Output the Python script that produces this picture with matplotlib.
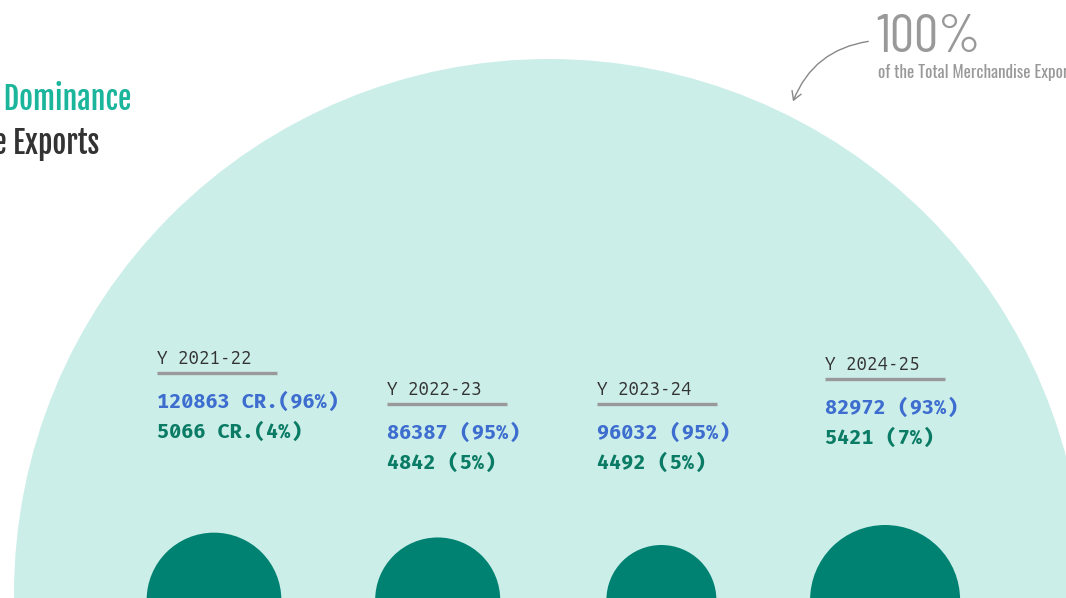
import matplotlib
matplotlib.use("Agg")
import matplotlib.pyplot as plt
from matplotlib.patches import Circle, FancyArrowPatch

# data
years = ["2021-22", "2022-23", "2023-24", "2024-25"]
main_values = [120863, 86387, 96032, 82972]
main_share = [96, 95, 95, 93]
other_values = [5066, 4842, 4492, 5421]
other_share = [4, 5, 5, 7]
units = ["CR.", "", "", ""]

title_line1 = "Export Dominance"
title_line2 = "in Merchandise Exports"
total_label = "100%"
total_note = "of the Total Merchandise Exports"

# colours
bg_teal = "#cceee9"
dark_teal = "#008272"
blue = "#3d6dcf"
green = "#0a7b64"
grey = "#999999"

mono = ["Fira Code", "DejaVu Sans Mono"]
light_mono = ["Ubuntu Mono", "DejaVu Sans Mono"]

fig = plt.figure(figsize=(10.66, 5.98), dpi=100)
ax = fig.add_axes([0, 0, 1, 1])
ax.set_xlim(0, 1066)
ax.set_ylim(598, 0)
ax.set_aspect("equal")
ax.axis("off")

# big 100% circle
ax.add_patch(Circle((549, 594), 535, color=bg_teal, lw=0, zorder=1))

# radius scale for the small circles
vmin, vmax = min(other_values), max(other_values)
def radius(v):
    return 55 + (v - vmin) / (vmax - vmin) * 20

# column layout (pixels)
circle_x = [214 + i * 223.7 for i in range(len(years))]
text_x = [157, 387, 597, 825]
label_top = [350, 381, 381, 356]

for i, year in enumerate(years):
    ax.add_patch(Circle((circle_x[i], 600), radius(other_values[i]), color=dark_teal, lw=0, zorder=2))

    tx = text_x[i]
    ty = label_top[i]
    ax.text(tx, ty + 14, "Y " + year, fontsize=13.5, family=light_mono,
            color="#333333", va="baseline", ha="left", zorder=3)
    ax.plot([tx, tx + 120], [ty + 22.5, ty + 22.5], color=grey, lw=2.4, solid_capstyle="butt", zorder=3)

    if units[i]:
        top_txt = f"{main_values[i]} {units[i]}({main_share[i]}%)"
        bot_txt = f"{other_values[i]} {units[i]}({other_share[i]}%)"
    else:
        top_txt = f"{main_values[i]} ({main_share[i]}%)"
        bot_txt = f"{other_values[i]} ({other_share[i]}%)"
    ax.text(tx, ty + 58, top_txt, fontsize=14.2, weight="bold", family=mono,
            color=blue, va="baseline", ha="left", zorder=3)
    ax.text(tx, ty + 88, bot_txt, fontsize=14.2, weight="bold", family=mono,
            color=green, va="baseline", ha="left", zorder=3)

# title (cut off at the left edge)
ax.text(131, 110, title_line1, fontsize=21.5, family=["Fjalla One", "DejaVu Sans"],
        color="#1bb59c", ha="right", va="baseline", zorder=3)
ax.text(99, 154, title_line2, fontsize=21.5, family=["Fjalla One", "DejaVu Sans"],
        color="#333333", ha="right", va="baseline", zorder=3)

# 100% annotation
ax.text(876, 52, total_label, fontsize=39, weight="normal", family=["Barlow Condensed", "DejaVu Sans"],
        color=grey, ha="left", va="baseline", zorder=3)
ax.text(878, 78, total_note, fontsize=12.3, family=["Oswald", "DejaVu Sans"],
        color=grey, ha="left", va="baseline", zorder=3)
arrow = FancyArrowPatch((871, 41), (792, 104), connectionstyle="arc3,rad=0.3",
                        arrowstyle="->,head_length=6,head_width=3.5", color="#888888", lw=1, zorder=3)
ax.add_patch(arrow)

fig.savefig("out.png", dpi=100)
